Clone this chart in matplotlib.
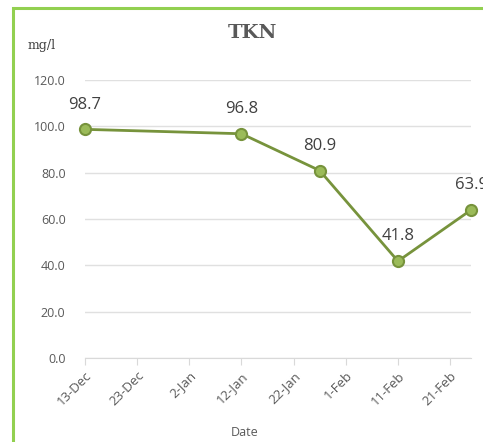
import matplotlib as mpl
mpl.use('Agg')
import matplotlib.pyplot as plt
from matplotlib.patches import Rectangle
import pandas as pd

dates = pd.to_datetime(['2019-12-13', '2020-01-12', '2020-01-27', '2020-02-11', '2020-02-25'])
tkn = [98.7, 96.8, 80.9, 41.8, 63.9]
tick_dates = pd.date_range('2019-12-13', '2020-02-21', freq='10D')
tick_labels = ['13-Dec', '23-Dec', '2-Jan', '12-Jan', '22-Jan', '1-Feb', '11-Feb', '21-Feb']
y_ticks = [0, 20, 40, 60, 80, 100, 120]

gray = '#595959'

fig = plt.figure(figsize=[4.83, 4.42], dpi=100)
ax = fig.add_axes([85/483, 1-358/442, 386/483, 278/442])

ax.plot(dates, tkn, '-', c='#77933C', lw=2, marker='o', ms=8,
        markerfacecolor='#9BBB59', markeredgecolor='#77933C', markeredgewidth=1.5,
        zorder=3, clip_on=False)
for d, v in zip(dates, tkn):
    ax.annotate('%.1f' % v, (d, v), xytext=(0, 12), textcoords='offset points',
                ha='center', va='bottom', fontsize=12, color='#404040',
                family='Open Sans', annotation_clip=False)

ax.set_ylim(0, 120)
ax.set_yticks(y_ticks)
ax.set_yticklabels(['%.1f' % t for t in y_ticks])
ax.set_xlim(dates[0], dates[-1])
ax.set_xticks(tick_dates)
ax.set_xticklabels(tick_labels, rotation=45, ha='right', rotation_mode='anchor')

ax.grid(axis='y', color='#E0E0E0', lw=1)
ax.set_axisbelow(True)
for s in ['top', 'right', 'left']:
    ax.spines[s].set_visible(False)
ax.spines['bottom'].set_color('#D9D9D9')
ax.tick_params(axis='y', length=0, pad=14, labelsize=9, labelcolor=gray)
ax.tick_params(axis='x', length=5, color='#D9D9D9', pad=3, labelsize=9.5, labelcolor=gray)
for lab in ax.get_xticklabels() + ax.get_yticklabels():
    lab.set_family('Open Sans')

fig.text(252/483, 1-33/442, 'TKN', ha='center', va='center', fontsize=14,
         fontweight='bold', color=gray, family='DejaVu Serif')
fig.text(28/483, 1-45/442, 'mg/l', ha='left', va='center', fontsize=9,
         color='#404040', family='DejaVu Serif')
fig.text(245/483, 1-432/442, 'Date', ha='center', va='center', fontsize=9,
         color=gray, family='Open Sans')

fig.patches.append(Rectangle((13/483, -0.1), 1.2, 1.1 - 8/442, transform=fig.transFigure,
                             fill=False, edgecolor='#92D050', lw=2.2))

plt.savefig('out.png', dpi=100)
plt.close(fig)
